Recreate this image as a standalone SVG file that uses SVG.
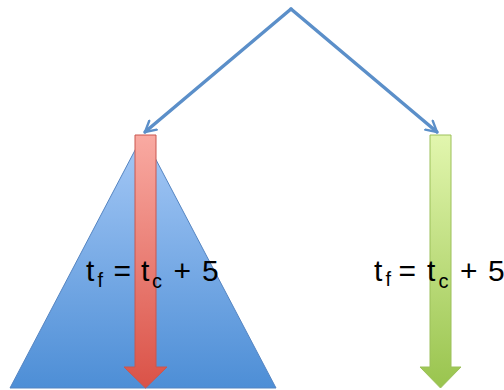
<svg xmlns="http://www.w3.org/2000/svg" width="504" height="390" viewBox="0 0 504 390">
<style>
.conn{fill:none;stroke:#5b8fc9;stroke-width:3.5;stroke-linecap:round}
.lbl{font-family:"Liberation Sans",Arial,sans-serif;font-size:30px;fill:#000}
.sub{font-size:20px}
</style>
<defs>
<linearGradient id="gTri" x1="0" y1="0" x2="0" y2="1">
<stop offset="0" stop-color="#a6c9f6"/><stop offset="1" stop-color="#4d8ed6"/>
</linearGradient>
<linearGradient id="gRed" x1="0" y1="0" x2="0" y2="1">
<stop offset="0" stop-color="#f9aaa2"/><stop offset="1" stop-color="#da5247"/>
</linearGradient>
<linearGradient id="gGrn" x1="0" y1="0" x2="0" y2="1">
<stop offset="0" stop-color="#e2f6ae"/><stop offset="1" stop-color="#99c44e"/>
</linearGradient>
<marker id="open" viewBox="0 0 12 12" refX="10" refY="6" markerWidth="4" markerHeight="4" orient="auto" markerUnits="strokeWidth">
<path d="M1,1 L10,6 L1,11" fill="none" stroke="#5b8fc9" stroke-width="2" stroke-linecap="round" stroke-linejoin="round"/>
</marker>
</defs>
<g id="triangle">
<polygon points="143,135 10,388 276,388" fill="url(#gTri)" stroke="#5585c2" stroke-width="1"/>
</g>
<g id="redArrow">
<polygon points="135,135 156,135 156,367 167,367 145.5,388 124,367 135,367" fill="url(#gRed)" stroke="#c9564e" stroke-width="1"/>
</g>
<g id="greenArrow">
<polygon points="430,135 451,135 451,367 461,367 440.5,388 420,367 430,367" fill="url(#gGrn)" stroke="#9cc05a" stroke-width="1"/>
</g>
<g id="connectors">
<line class="conn" x1="291" y1="9" x2="145" y2="132" marker-end="url(#open)"/>
<line class="conn" x1="291" y1="9" x2="437" y2="132" marker-end="url(#open)"/>
</g>
<g id="labelLeft">
<text class="lbl" y="281"><tspan x="86">t</tspan><tspan class="sub" x="97.5" y="287">f</tspan><tspan x="113.5" y="281">=</tspan><tspan x="141">t</tspan><tspan class="sub" x="152" y="288">c</tspan><tspan x="173.5" y="281">+</tspan><tspan x="202">5</tspan></text>
</g>
<g id="labelRight">
<text class="lbl" y="281"><tspan x="374">t</tspan><tspan class="sub" x="385.5" y="286">f</tspan><tspan x="398.5" y="281">=</tspan><tspan x="427">t</tspan><tspan class="sub" x="438.5" y="288">c</tspan><tspan x="460" y="281">+</tspan><tspan x="488">5</tspan></text>
</g>
</svg>
